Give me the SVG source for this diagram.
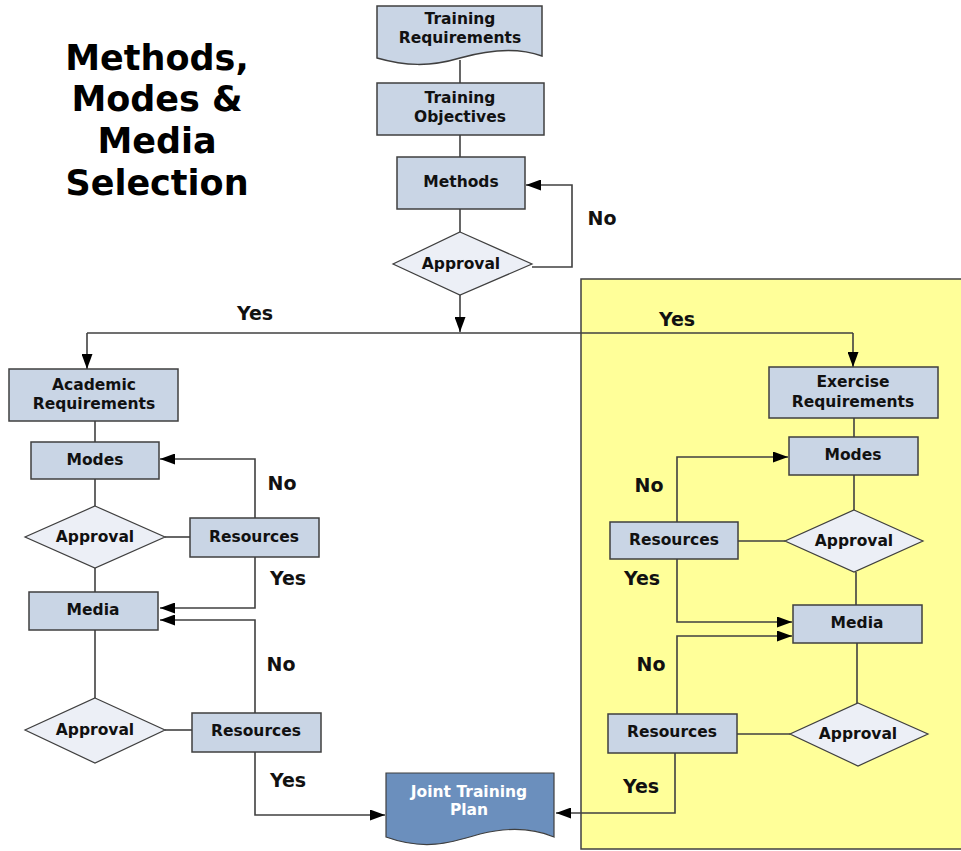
<svg xmlns="http://www.w3.org/2000/svg" width="961" height="851" viewBox="0 0 961 851">
<defs>
<style>
.box{fill:#c9d5e5;stroke:#3f3f3f;stroke-width:1.5}
.dia{fill:#eceff6;stroke:#3f3f3f;stroke-width:1.2}
.doc2{fill:#6b8fbd;stroke:#3f3f3f;stroke-width:1.2}
.t{font-family:"DejaVu Sans",Verdana,sans-serif;font-weight:bold;font-size:15.5px;fill:#111;text-anchor:middle}
.tw{fill:#ffffff}
.lbl{font-family:"DejaVu Sans",Verdana,sans-serif;font-weight:bold;font-size:19px;fill:#111;text-anchor:middle}
.title{font-family:"DejaVu Sans",Verdana,sans-serif;font-weight:bold;font-size:35px;fill:#000;text-anchor:middle}
.c{fill:none;stroke:#404040;stroke-width:1.6}
</style>
<marker id="ah" viewBox="0 0 15 11" refX="15" refY="5.5" markerWidth="15" markerHeight="11" markerUnits="userSpaceOnUse" orient="auto">
<path d="M0,0 L15,5.5 L0,11 Z" fill="#000"/>
</marker>
</defs>
<rect width="961" height="851" fill="#ffffff"/>
<rect id="exercise-area" x="581" y="279" width="385" height="570" fill="#ffff99" stroke="#404040" stroke-width="1.5"/>

<g id="title">
<text class="title" x="157" y="70">Methods,</text>
<text class="title" x="157" y="111">Modes &amp;</text>
<text class="title" x="157" y="153">Media</text>
<text class="title" x="157" y="195">Selection</text>
</g>

<g id="connectors">
<path class="c" d="M460,60 V83"/>
<path class="c" d="M460,135 V157"/>
<path class="c" d="M460,209 V232"/>
<path class="c" d="M460,295 V332" marker-end="url(#ah)"/>
<path class="c" d="M532,267 H572 V185 H526" marker-end="url(#ah)"/>
<path class="c" d="M87,333 H853"/>
<path class="c" d="M87,333 V369" marker-end="url(#ah)"/>
<path class="c" d="M853,333 V367" marker-end="url(#ah)"/>
<!-- left -->
<path class="c" d="M95,421 V442"/>
<path class="c" d="M95,479 V506"/>
<path class="c" d="M165,537 H190"/>
<path class="c" d="M255,518 V459 H160" marker-end="url(#ah)"/>
<path class="c" d="M95,568 V592"/>
<path class="c" d="M255,557 V608 H160" marker-end="url(#ah)"/>
<path class="c" d="M95,630 V698"/>
<path class="c" d="M165,730 H192"/>
<path class="c" d="M255,713 V620 H160" marker-end="url(#ah)"/>
<path class="c" d="M255,752 V815 H385" marker-end="url(#ah)"/>
<!-- right -->
<path class="c" d="M854,418 V437"/>
<path class="c" d="M854,475 V510"/>
<path class="c" d="M738,541 H785"/>
<path class="c" d="M677,522 V457 H788" marker-end="url(#ah)"/>
<path class="c" d="M856,572 V605"/>
<path class="c" d="M677,559 V622 H792" marker-end="url(#ah)"/>
<path class="c" d="M857,643 V703"/>
<path class="c" d="M737,734 H790"/>
<path class="c" d="M677,714 V636 H792" marker-end="url(#ah)"/>
<path class="c" d="M675,753 V813 H556" marker-end="url(#ah)"/>
</g>

<g id="training-requirements">
<path class="box" d="M377,6 H542 V56 C520,48 495,48 460,58 C430,67 405,66 377,58 Z"/>
<text class="t" x="460" y="24">Training</text>
<text class="t" x="460" y="43">Requirements</text>
</g>
<g id="training-objectives">
<rect class="box" x="377" y="83" width="167" height="52"/>
<text class="t" x="460" y="103">Training</text>
<text class="t" x="460" y="122">Objectives</text>
</g>
<g id="methods">
<rect class="box" x="397" y="157" width="128" height="52"/>
<text class="t" x="461" y="187">Methods</text>
</g>
<g id="approval-methods">
<polygon class="dia" points="460,232 532,264 460,295 393,264"/>
<text class="t" x="461" y="269">Approval</text>
</g>

<g id="academic-requirements">
<rect class="box" x="9" y="369" width="169" height="52"/>
<text class="t" x="94" y="390">Academic</text>
<text class="t" x="94" y="409">Requirements</text>
</g>
<g id="modes-left">
<rect class="box" x="31" y="442" width="128" height="37"/>
<text class="t" x="95" y="465">Modes</text>
</g>
<g id="approval-modes-left">
<polygon class="dia" points="95,506 165,537 95,568 25,537"/>
<text class="t" x="95" y="542">Approval</text>
</g>
<g id="resources-modes-left">
<rect class="box" x="190" y="518" width="129" height="39"/>
<text class="t" x="254" y="542">Resources</text>
</g>
<g id="media-left">
<rect class="box" x="29" y="592" width="129" height="38"/>
<text class="t" x="93" y="615">Media</text>
</g>
<g id="approval-media-left">
<polygon class="dia" points="95,698 165,730 95,763 25,730"/>
<text class="t" x="95" y="735">Approval</text>
</g>
<g id="resources-media-left">
<rect class="box" x="192" y="713" width="129" height="39"/>
<text class="t" x="256" y="736">Resources</text>
</g>

<g id="exercise-requirements">
<rect class="box" x="769" y="367" width="169" height="51"/>
<text class="t" x="853" y="387">Exercise</text>
<text class="t" x="853" y="407">Requirements</text>
</g>
<g id="modes-right">
<rect class="box" x="789" y="437" width="129" height="38"/>
<text class="t" x="853" y="460">Modes</text>
</g>
<g id="approval-modes-right">
<polygon class="dia" points="854,510 923,541 854,572 785,541"/>
<text class="t" x="854" y="546">Approval</text>
</g>
<g id="resources-modes-right">
<rect class="box" x="610" y="522" width="128" height="37"/>
<text class="t" x="674" y="545">Resources</text>
</g>
<g id="media-right">
<rect class="box" x="793" y="605" width="129" height="38"/>
<text class="t" x="857" y="628">Media</text>
</g>
<g id="approval-media-right">
<polygon class="dia" points="858,703 928,734 858,766 790,734"/>
<text class="t" x="858" y="739">Approval</text>
</g>
<g id="resources-media-right">
<rect class="box" x="608" y="714" width="129" height="39"/>
<text class="t" x="672" y="737">Resources</text>
</g>

<g id="joint-training-plan">
<path class="doc2" d="M386,773 H554 V837 C535,829 512,826 480,834 C450,843 425,851 386,837 Z"/>
<text class="t tw" x="469" y="797">Joint Training</text>
<text class="t tw" x="469" y="815">Plan</text>
</g>

<g id="labels">
<text class="lbl" x="602" y="225">No</text>
<text class="lbl" x="255" y="320">Yes</text>
<text class="lbl" x="677" y="326">Yes</text>
<text class="lbl" x="282" y="490">No</text>
<text class="lbl" x="288" y="585">Yes</text>
<text class="lbl" x="281" y="671">No</text>
<text class="lbl" x="288" y="787">Yes</text>
<text class="lbl" x="649" y="492">No</text>
<text class="lbl" x="642" y="585">Yes</text>
<text class="lbl" x="651" y="671">No</text>
<text class="lbl" x="641" y="793">Yes</text>
</g>
</svg>
